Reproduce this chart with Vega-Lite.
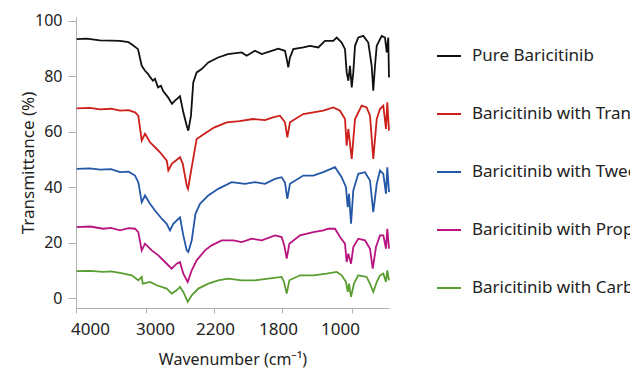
{
  "$schema": "https://vega.github.io/schema/vega-lite/v6.json",
  "autosize": {"type": "none"},
  "padding": {"left": 76, "top": 17, "right": 241, "bottom": 63},
  "width": 313,
  "height": 291,
  "background": "white",
  "config": {
    "view": {"stroke": null},
    "font": "Noto Sans",
    "axis": {"labelFont": "Noto Sans", "titleFont": "Noto Sans", "labelColor": "#222", "titleColor": "#222", "domainColor": "#b0b0b0", "tickColor": "#b0b0b0", "grid": false, "titleFontWeight": "normal"}
  },
  "datasets": {
    "spectra": [
      {"s":"Pure Baricitinib","w":3990,"t":93.4},{"s":"Pure Baricitinib","w":3850,"t":93.6},{"s":"Pure Baricitinib","w":3657,"t":93.0},{"s":"Pure Baricitinib","w":3500,"t":92.9},{"s":"Pure Baricitinib","w":3371,"t":92.8},{"s":"Pure Baricitinib","w":3250,"t":92.3},{"s":"Pure Baricitinib","w":3186,"t":91.2},{"s":"Pure Baricitinib","w":3114,"t":89.8},{"s":"Pure Baricitinib","w":3061,"t":83.8},{"s":"Pure Baricitinib","w":3014,"t":82.0},{"s":"Pure Baricitinib","w":2976,"t":80.9},{"s":"Pure Baricitinib","w":2953,"t":79.8},{"s":"Pure Baricitinib","w":2918,"t":78.4},{"s":"Pure Baricitinib","w":2894,"t":79.1},{"s":"Pure Baricitinib","w":2859,"t":76.0},{"s":"Pure Baricitinib","w":2824,"t":76.6},{"s":"Pure Baricitinib","w":2800,"t":74.8},{"s":"Pure Baricitinib","w":2741,"t":72.4},{"s":"Pure Baricitinib","w":2694,"t":70.1},{"s":"Pure Baricitinib","w":2659,"t":71.2},{"s":"Pure Baricitinib","w":2600,"t":72.8},{"s":"Pure Baricitinib","w":2561,"t":67.0},{"s":"Pure Baricitinib","w":2521,"t":62.2},{"s":"Pure Baricitinib","w":2502,"t":60.4},{"s":"Pure Baricitinib","w":2471,"t":65.8},{"s":"Pure Baricitinib","w":2444,"t":77.8},{"s":"Pure Baricitinib","w":2404,"t":81.4},{"s":"Pure Baricitinib","w":2345,"t":82.6},{"s":"Pure Baricitinib","w":2267,"t":85.0},{"s":"Pure Baricitinib","w":2176,"t":86.8},{"s":"Pure Baricitinib","w":2118,"t":88.0},{"s":"Pure Baricitinib","w":2037,"t":88.6},{"s":"Pure Baricitinib","w":2008,"t":87.4},{"s":"Pure Baricitinib","w":1959,"t":89.2},{"s":"Pure Baricitinib","w":1919,"t":88.0},{"s":"Pure Baricitinib","w":1861,"t":89.2},{"s":"Pure Baricitinib","w":1822,"t":90.0},{"s":"Pure Baricitinib","w":1766,"t":89.2},{"s":"Pure Baricitinib","w":1746,"t":86.2},{"s":"Pure Baricitinib","w":1728,"t":83.2},{"s":"Pure Baricitinib","w":1709,"t":86.8},{"s":"Pure Baricitinib","w":1671,"t":89.8},{"s":"Pure Baricitinib","w":1557,"t":90.4},{"s":"Pure Baricitinib","w":1480,"t":91.0},{"s":"Pure Baricitinib","w":1385,"t":90.4},{"s":"Pure Baricitinib","w":1309,"t":92.8},{"s":"Pure Baricitinib","w":1214,"t":92.8},{"s":"Pure Baricitinib","w":1175,"t":94.0},{"s":"Pure Baricitinib","w":1118,"t":92.2},{"s":"Pure Baricitinib","w":1080,"t":89.8},{"s":"Pure Baricitinib","w":1061,"t":81.4},{"s":"Pure Baricitinib","w":1042,"t":78.4},{"s":"Pure Baricitinib","w":1023,"t":83.8},{"s":"Pure Baricitinib","w":1003,"t":76.0},{"s":"Pure Baricitinib","w":979,"t":81.4},{"s":"Pure Baricitinib","w":951,"t":91.0},{"s":"Pure Baricitinib","w":898,"t":94.0},{"s":"Pure Baricitinib","w":817,"t":94.6},{"s":"Pure Baricitinib","w":736,"t":92.2},{"s":"Pure Baricitinib","w":681,"t":83.8},{"s":"Pure Baricitinib","w":655,"t":74.8},{"s":"Pure Baricitinib","w":627,"t":83.8},{"s":"Pure Baricitinib","w":599,"t":91.0},{"s":"Pure Baricitinib","w":518,"t":94.6},{"s":"Pure Baricitinib","w":465,"t":94.0},{"s":"Pure Baricitinib","w":437,"t":88.6},{"s":"Pure Baricitinib","w":412,"t":94.0},{"s":"Pure Baricitinib","w":400,"t":79.6},

      {"s":"Baricitinib with Transcutol P","w":3990,"t":68.4},{"s":"Baricitinib with Transcutol P","w":3800,"t":68.6},{"s":"Baricitinib with Transcutol P","w":3657,"t":68.1},{"s":"Baricitinib with Transcutol P","w":3500,"t":68.3},{"s":"Baricitinib with Transcutol P","w":3371,"t":67.6},{"s":"Baricitinib with Transcutol P","w":3250,"t":67.8},{"s":"Baricitinib with Transcutol P","w":3157,"t":67.0},{"s":"Baricitinib with Transcutol P","w":3110,"t":65.8},{"s":"Baricitinib with Transcutol P","w":3061,"t":56.8},{"s":"Baricitinib with Transcutol P","w":3014,"t":59.3},{"s":"Baricitinib with Transcutol P","w":2953,"t":56.2},{"s":"Baricitinib with Transcutol P","w":2894,"t":54.4},{"s":"Baricitinib with Transcutol P","w":2835,"t":52.6},{"s":"Baricitinib with Transcutol P","w":2756,"t":49.6},{"s":"Baricitinib with Transcutol P","w":2737,"t":46.0},{"s":"Baricitinib with Transcutol P","w":2694,"t":48.5},{"s":"Baricitinib with Transcutol P","w":2600,"t":50.8},{"s":"Baricitinib with Transcutol P","w":2568,"t":48.5},{"s":"Baricitinib with Transcutol P","w":2521,"t":40.6},{"s":"Baricitinib with Transcutol P","w":2506,"t":39.4},{"s":"Baricitinib with Transcutol P","w":2462,"t":47.2},{"s":"Baricitinib with Transcutol P","w":2404,"t":57.4},{"s":"Baricitinib with Transcutol P","w":2286,"t":59.8},{"s":"Baricitinib with Transcutol P","w":2200,"t":61.5},{"s":"Baricitinib with Transcutol P","w":2125,"t":63.4},{"s":"Baricitinib with Transcutol P","w":2050,"t":63.8},{"s":"Baricitinib with Transcutol P","w":1971,"t":64.6},{"s":"Baricitinib with Transcutol P","w":1900,"t":64.2},{"s":"Baricitinib with Transcutol P","w":1853,"t":65.2},{"s":"Baricitinib with Transcutol P","w":1812,"t":65.8},{"s":"Baricitinib with Transcutol P","w":1766,"t":63.4},{"s":"Baricitinib with Transcutol P","w":1739,"t":58.0},{"s":"Baricitinib with Transcutol P","w":1709,"t":63.4},{"s":"Baricitinib with Transcutol P","w":1557,"t":66.4},{"s":"Baricitinib with Transcutol P","w":1442,"t":67.0},{"s":"Baricitinib with Transcutol P","w":1328,"t":67.6},{"s":"Baricitinib with Transcutol P","w":1214,"t":68.8},{"s":"Baricitinib with Transcutol P","w":1137,"t":67.6},{"s":"Baricitinib with Transcutol P","w":1080,"t":64.6},{"s":"Baricitinib with Transcutol P","w":1061,"t":55.0},{"s":"Baricitinib with Transcutol P","w":1042,"t":61.0},{"s":"Baricitinib with Transcutol P","w":1003,"t":50.2},{"s":"Baricitinib with Transcutol P","w":951,"t":64.6},{"s":"Baricitinib with Transcutol P","w":843,"t":69.4},{"s":"Baricitinib with Transcutol P","w":762,"t":68.8},{"s":"Baricitinib with Transcutol P","w":708,"t":65.8},{"s":"Baricitinib with Transcutol P","w":655,"t":50.2},{"s":"Baricitinib with Transcutol P","w":599,"t":64.6},{"s":"Baricitinib with Transcutol P","w":546,"t":68.2},{"s":"Baricitinib with Transcutol P","w":492,"t":69.4},{"s":"Baricitinib with Transcutol P","w":449,"t":61.0},{"s":"Baricitinib with Transcutol P","w":428,"t":70.6},{"s":"Baricitinib with Transcutol P","w":400,"t":60.4},

      {"s":"Baricitinib with Tween 80","w":3990,"t":46.6},{"s":"Baricitinib with Tween 80","w":3800,"t":46.8},{"s":"Baricitinib with Tween 80","w":3657,"t":46.3},{"s":"Baricitinib with Tween 80","w":3500,"t":46.5},{"s":"Baricitinib with Tween 80","w":3371,"t":45.4},{"s":"Baricitinib with Tween 80","w":3250,"t":45.6},{"s":"Baricitinib with Tween 80","w":3157,"t":44.2},{"s":"Baricitinib with Tween 80","w":3110,"t":41.8},{"s":"Baricitinib with Tween 80","w":3061,"t":34.6},{"s":"Baricitinib with Tween 80","w":3014,"t":37.0},{"s":"Baricitinib with Tween 80","w":2953,"t":34.0},{"s":"Baricitinib with Tween 80","w":2894,"t":31.6},{"s":"Baricitinib with Tween 80","w":2815,"t":28.6},{"s":"Baricitinib with Tween 80","w":2756,"t":26.8},{"s":"Baricitinib with Tween 80","w":2718,"t":24.4},{"s":"Baricitinib with Tween 80","w":2679,"t":26.8},{"s":"Baricitinib with Tween 80","w":2600,"t":29.1},{"s":"Baricitinib with Tween 80","w":2561,"t":22.6},{"s":"Baricitinib with Tween 80","w":2521,"t":17.2},{"s":"Baricitinib with Tween 80","w":2502,"t":16.6},{"s":"Baricitinib with Tween 80","w":2462,"t":20.8},{"s":"Baricitinib with Tween 80","w":2418,"t":30.4},{"s":"Baricitinib with Tween 80","w":2365,"t":34.0},{"s":"Baricitinib with Tween 80","w":2267,"t":37.0},{"s":"Baricitinib with Tween 80","w":2175,"t":39.4},{"s":"Baricitinib with Tween 80","w":2096,"t":41.8},{"s":"Baricitinib with Tween 80","w":2018,"t":41.2},{"s":"Baricitinib with Tween 80","w":1959,"t":41.8},{"s":"Baricitinib with Tween 80","w":1900,"t":41.2},{"s":"Baricitinib with Tween 80","w":1841,"t":43.0},{"s":"Baricitinib with Tween 80","w":1802,"t":43.6},{"s":"Baricitinib with Tween 80","w":1766,"t":41.7},{"s":"Baricitinib with Tween 80","w":1739,"t":35.8},{"s":"Baricitinib with Tween 80","w":1709,"t":41.2},{"s":"Baricitinib with Tween 80","w":1557,"t":44.2},{"s":"Baricitinib with Tween 80","w":1442,"t":44.2},{"s":"Baricitinib with Tween 80","w":1328,"t":45.4},{"s":"Baricitinib with Tween 80","w":1194,"t":47.2},{"s":"Baricitinib with Tween 80","w":1118,"t":43.6},{"s":"Baricitinib with Tween 80","w":1069,"t":40.0},{"s":"Baricitinib with Tween 80","w":1049,"t":32.8},{"s":"Baricitinib with Tween 80","w":1034,"t":37.6},{"s":"Baricitinib with Tween 80","w":1011,"t":26.8},{"s":"Baricitinib with Tween 80","w":979,"t":38.8},{"s":"Baricitinib with Tween 80","w":898,"t":44.8},{"s":"Baricitinib with Tween 80","w":789,"t":45.4},{"s":"Baricitinib with Tween 80","w":708,"t":42.4},{"s":"Baricitinib with Tween 80","w":655,"t":31.0},{"s":"Baricitinib with Tween 80","w":599,"t":41.2},{"s":"Baricitinib with Tween 80","w":546,"t":46.0},{"s":"Baricitinib with Tween 80","w":492,"t":44.8},{"s":"Baricitinib with Tween 80","w":449,"t":37.6},{"s":"Baricitinib with Tween 80","w":428,"t":47.2},{"s":"Baricitinib with Tween 80","w":400,"t":38.2},

      {"s":"Baricitinib with Propylene glycol","w":3990,"t":25.6},{"s":"Baricitinib with Propylene glycol","w":3800,"t":25.8},{"s":"Baricitinib with Propylene glycol","w":3610,"t":25.0},{"s":"Baricitinib with Propylene glycol","w":3500,"t":25.3},{"s":"Baricitinib with Propylene glycol","w":3371,"t":24.4},{"s":"Baricitinib with Propylene glycol","w":3250,"t":25.2},{"s":"Baricitinib with Propylene glycol","w":3157,"t":25.0},{"s":"Baricitinib with Propylene glycol","w":3110,"t":23.8},{"s":"Baricitinib with Propylene glycol","w":3061,"t":17.2},{"s":"Baricitinib with Propylene glycol","w":3014,"t":19.6},{"s":"Baricitinib with Propylene glycol","w":2933,"t":17.2},{"s":"Baricitinib with Propylene glycol","w":2855,"t":15.4},{"s":"Baricitinib with Propylene glycol","w":2776,"t":13.0},{"s":"Baricitinib with Propylene glycol","w":2698,"t":10.6},{"s":"Baricitinib with Propylene glycol","w":2639,"t":12.4},{"s":"Baricitinib with Propylene glycol","w":2600,"t":13.0},{"s":"Baricitinib with Propylene glycol","w":2561,"t":8.8},{"s":"Baricitinib with Propylene glycol","w":2509,"t":5.8},{"s":"Baricitinib with Propylene glycol","w":2462,"t":10.0},{"s":"Baricitinib with Propylene glycol","w":2404,"t":13.6},{"s":"Baricitinib with Propylene glycol","w":2306,"t":17.2},{"s":"Baricitinib with Propylene glycol","w":2227,"t":19.0},{"s":"Baricitinib with Propylene glycol","w":2155,"t":20.8},{"s":"Baricitinib with Propylene glycol","w":2086,"t":20.8},{"s":"Baricitinib with Propylene glycol","w":2037,"t":20.2},{"s":"Baricitinib with Propylene glycol","w":1978,"t":21.4},{"s":"Baricitinib with Propylene glycol","w":1919,"t":20.8},{"s":"Baricitinib with Propylene glycol","w":1841,"t":22.6},{"s":"Baricitinib with Propylene glycol","w":1802,"t":22.0},{"s":"Baricitinib with Propylene glycol","w":1774,"t":19.0},{"s":"Baricitinib with Propylene glycol","w":1746,"t":14.2},{"s":"Baricitinib with Propylene glycol","w":1716,"t":19.6},{"s":"Baricitinib with Propylene glycol","w":1594,"t":22.6},{"s":"Baricitinib with Propylene glycol","w":1442,"t":23.8},{"s":"Baricitinib with Propylene glycol","w":1328,"t":24.4},{"s":"Baricitinib with Propylene glycol","w":1271,"t":25.0},{"s":"Baricitinib with Propylene glycol","w":1194,"t":25.0},{"s":"Baricitinib with Propylene glycol","w":1137,"t":22.0},{"s":"Baricitinib with Propylene glycol","w":1080,"t":19.6},{"s":"Baricitinib with Propylene glycol","w":1061,"t":13.0},{"s":"Baricitinib with Propylene glycol","w":1042,"t":16.0},{"s":"Baricitinib with Propylene glycol","w":1011,"t":12.4},{"s":"Baricitinib with Propylene glycol","w":979,"t":18.4},{"s":"Baricitinib with Propylene glycol","w":898,"t":21.4},{"s":"Baricitinib with Propylene glycol","w":789,"t":20.8},{"s":"Baricitinib with Propylene glycol","w":708,"t":17.8},{"s":"Baricitinib with Propylene glycol","w":664,"t":10.6},{"s":"Baricitinib with Propylene glycol","w":611,"t":18.4},{"s":"Baricitinib with Propylene glycol","w":546,"t":22.6},{"s":"Baricitinib with Propylene glycol","w":492,"t":22.6},{"s":"Baricitinib with Propylene glycol","w":449,"t":17.8},{"s":"Baricitinib with Propylene glycol","w":428,"t":25.0},{"s":"Baricitinib with Propylene glycol","w":400,"t":17.8},

      {"s":"Baricitinib with Carbitol","w":3990,"t":9.7},{"s":"Baricitinib with Carbitol","w":3800,"t":9.8},{"s":"Baricitinib with Carbitol","w":3610,"t":9.4},{"s":"Baricitinib with Carbitol","w":3500,"t":9.6},{"s":"Baricitinib with Carbitol","w":3371,"t":9.1},{"s":"Baricitinib with Carbitol","w":3204,"t":8.2},{"s":"Baricitinib with Carbitol","w":3110,"t":6.4},{"s":"Baricitinib with Carbitol","w":3061,"t":7.6},{"s":"Baricitinib with Carbitol","w":3047,"t":5.2},{"s":"Baricitinib with Carbitol","w":2953,"t":5.8},{"s":"Baricitinib with Carbitol","w":2874,"t":4.6},{"s":"Baricitinib with Carbitol","w":2756,"t":3.4},{"s":"Baricitinib with Carbitol","w":2698,"t":1.6},{"s":"Baricitinib with Carbitol","w":2639,"t":2.8},{"s":"Baricitinib with Carbitol","w":2600,"t":4.0},{"s":"Baricitinib with Carbitol","w":2561,"t":2.2},{"s":"Baricitinib with Carbitol","w":2509,"t":-1.4},{"s":"Baricitinib with Carbitol","w":2462,"t":1.0},{"s":"Baricitinib with Carbitol","w":2384,"t":3.4},{"s":"Baricitinib with Carbitol","w":2267,"t":5.2},{"s":"Baricitinib with Carbitol","w":2175,"t":6.4},{"s":"Baricitinib with Carbitol","w":2116,"t":7.0},{"s":"Baricitinib with Carbitol","w":2037,"t":6.4},{"s":"Baricitinib with Carbitol","w":1959,"t":6.4},{"s":"Baricitinib with Carbitol","w":1881,"t":7.0},{"s":"Baricitinib with Carbitol","w":1802,"t":7.6},{"s":"Baricitinib with Carbitol","w":1777,"t":5.8},{"s":"Baricitinib with Carbitol","w":1746,"t":1.6},{"s":"Baricitinib with Carbitol","w":1716,"t":6.4},{"s":"Baricitinib with Carbitol","w":1594,"t":8.2},{"s":"Baricitinib with Carbitol","w":1442,"t":8.2},{"s":"Baricitinib with Carbitol","w":1290,"t":8.8},{"s":"Baricitinib with Carbitol","w":1175,"t":9.4},{"s":"Baricitinib with Carbitol","w":1118,"t":8.2},{"s":"Baricitinib with Carbitol","w":1069,"t":5.8},{"s":"Baricitinib with Carbitol","w":1049,"t":2.2},{"s":"Baricitinib with Carbitol","w":1034,"t":5.2},{"s":"Baricitinib with Carbitol","w":1011,"t":0.4},{"s":"Baricitinib with Carbitol","w":968,"t":5.2},{"s":"Baricitinib with Carbitol","w":898,"t":8.2},{"s":"Baricitinib with Carbitol","w":762,"t":7.6},{"s":"Baricitinib with Carbitol","w":697,"t":4.6},{"s":"Baricitinib with Carbitol","w":655,"t":2.2},{"s":"Baricitinib with Carbitol","w":599,"t":5.8},{"s":"Baricitinib with Carbitol","w":546,"t":8.2},{"s":"Baricitinib with Carbitol","w":492,"t":8.8},{"s":"Baricitinib with Carbitol","w":449,"t":5.8},{"s":"Baricitinib with Carbitol","w":428,"t":10.0},{"s":"Baricitinib with Carbitol","w":400,"t":6.4}
    ]
  },
  "data": {"name": "spectra"},
  "mark": {"type": "line", "strokeWidth": 1.8, "clip": false},
  "encoding": {
    "x": {
      "field": "w", "type": "quantitative",
      "scale": {"domain": [4000, 3000, 2200, 1800, 1000, 400], "range": [0, 70, 138, 206, 276, 313], "zero": false, "nice": false},
      "axis": {
        "values": [4000, 3000, 2200, 1800, 1000],
        "format": "d",
        "title": "Wavenumber (cm⁻¹)",
        "labelFontSize": 17, "titleFontSize": 16,
        "tickSize": 5, "labelPadding": 8, "titlePadding": 14,
        "labelFlush": false, "labelOverlap": false,
        "labelOffset": {"expr": "datum.value == 4000 ? 14 : datum.value == 3000 ? 9 : datum.value == 2200 ? 1 : datum.value == 1800 ? -4 : -12"}
      }
    },
    "y": {
      "field": "t", "type": "quantitative",
      "scale": {"domain": [-3.6, 101.4], "zero": false, "nice": false},
      "axis": {
        "values": [0, 20, 40, 60, 80, 100],
        "title": "Transmittance (%)",
        "labelFontSize": 16, "titleFontSize": 17,
        "tickSize": 8, "labelPadding": 6, "titleX": -39
      }
    },
    "color": {
      "field": "s", "type": "nominal",
      "scale": {
        "domain": ["Pure Baricitinib", "Baricitinib with Transcutol P", "Baricitinib with Tween 80", "Baricitinib with Propylene glycol", "Baricitinib with Carbitol"],
        "range": ["#111111", "#cc1f1a", "#2457a8", "#b8137f", "#5a9e32"]
      },
      "legend": {
        "title": null, "orient": "none", "legendX": 360, "legendY": 26,
        "symbolType": "stroke", "symbolSize": 576, "symbolStrokeWidth": 2,
        "labelFontSize": 17, "labelFont": "Noto Sans", "labelColor": "#222", "labelLimit": 400, "labelOffset": 10,
        "rowPadding": 37
      }
    }
  }
}
